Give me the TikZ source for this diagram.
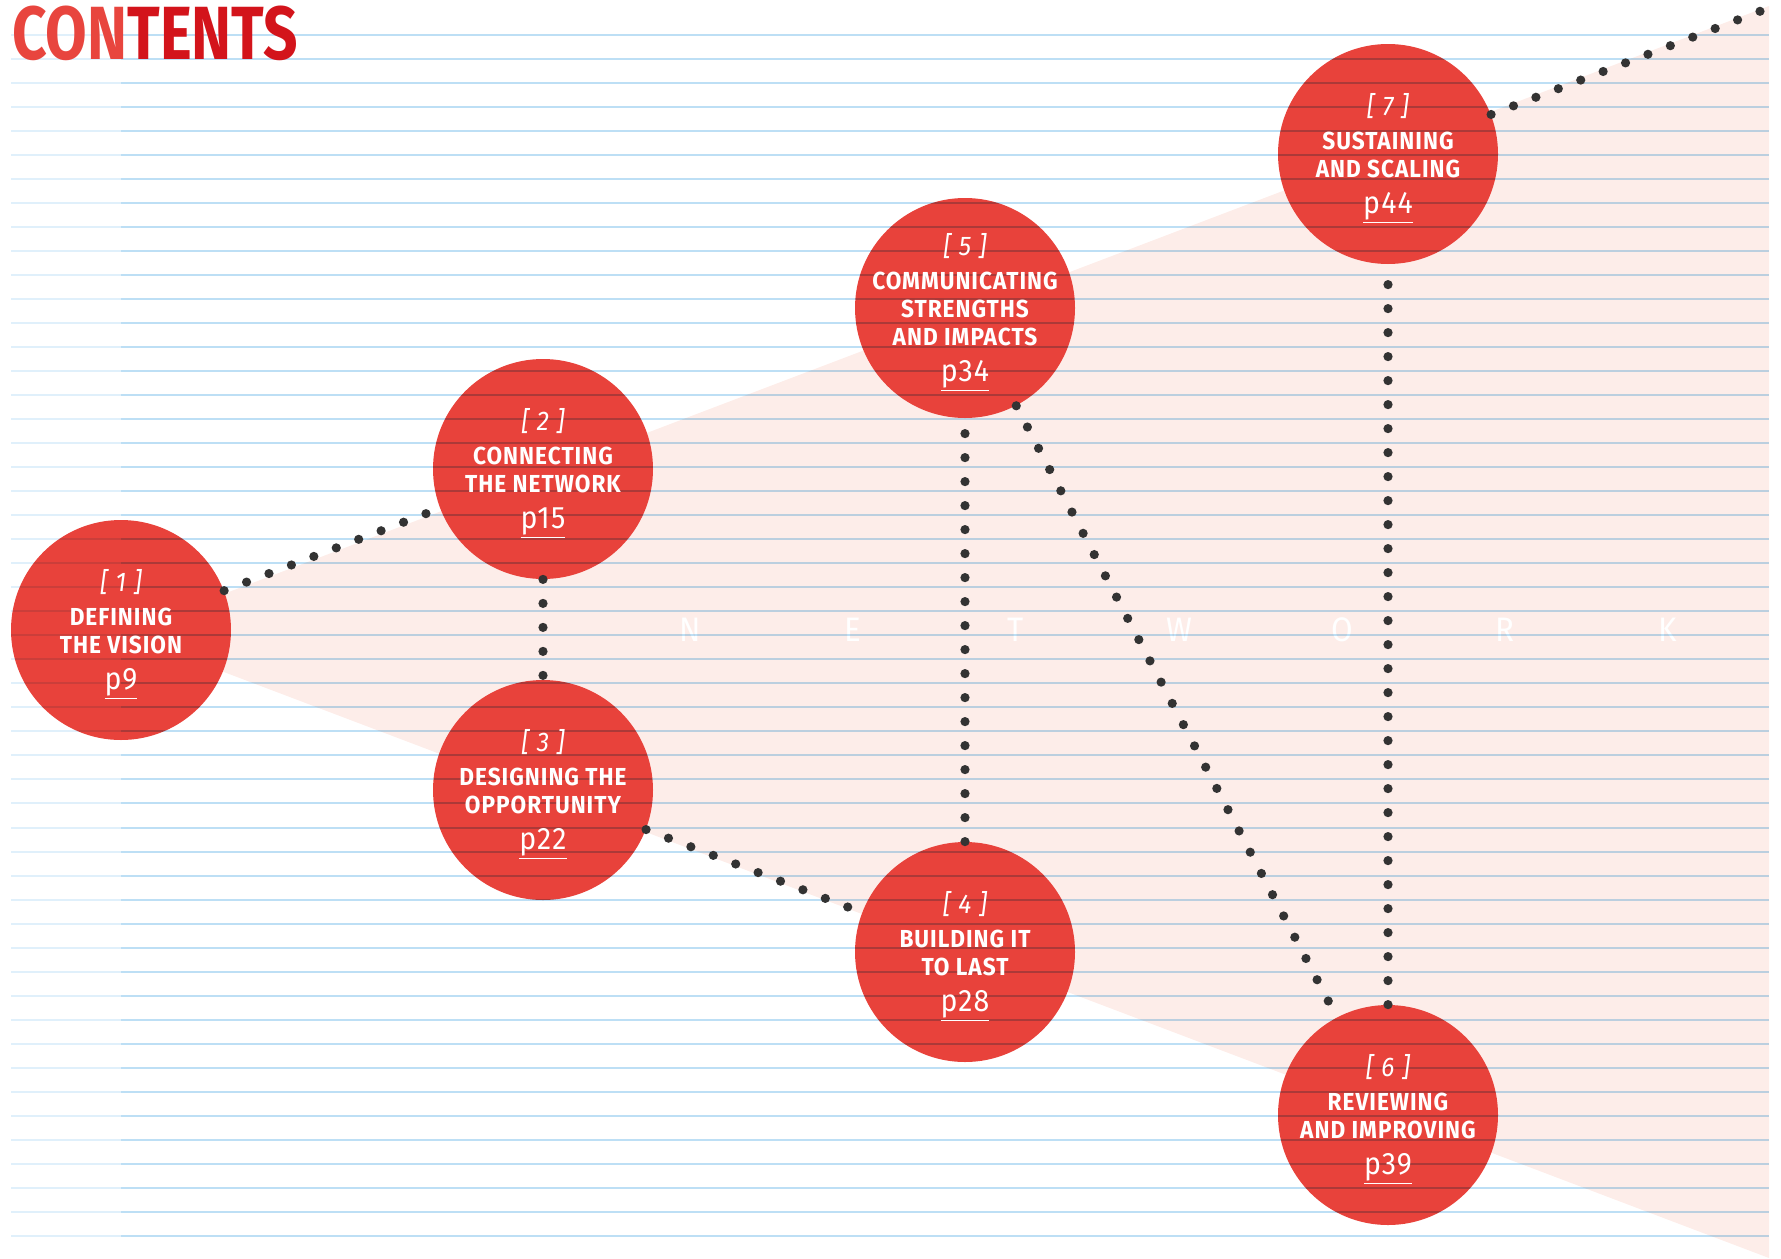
\documentclass[tikz,border=0pt]{standalone}
\usepackage{fontspec}
\setmainfont{Fira Sans}
\newfontfamily\titlefont[FakeStretch=0.8]{Fira Sans}
\newfontfamily\chapfont[FakeStretch=0.92, LetterSpace=4]{Fira Sans}
\usetikzlibrary{positioning}
\definecolor{chapred}{HTML}{E8423B}
\definecolor{titlered}{HTML}{D3141B}
\definecolor{titlelight}{HTML}{E8453E}
\definecolor{bandpink}{HTML}{FDEDE9}
\definecolor{ruleblue}{HTML}{BDDFF5}
\definecolor{rulepale}{HTML}{E0F0FB}
\definecolor{dotgrey}{HTML}{333333}
\tikzset{chapter/.style = {circle, fill = chapred, minimum size = 110pt, inner sep = 0}}
\tikzset{chaptext/.style = {text = white, align = center, inner sep = 0,
    font = \chapfont\bfseries\fontsize{12.3}{14}\selectfont}}
\tikzset{rule/.style = {line width = 1pt, draw = ruleblue}}
\tikzset{palerule/.style = {line width = 1pt, draw = rulepale}}
\tikzset{trail/.style = {draw = dotgrey, line width = 4.6pt, line cap = round,
    dash pattern = on 0pt off 12pt}}
\tikzset{netletter/.style = {text = white, font = \chapfont\fontsize{17}{17}\selectfont}}
\newcommand{\chapnum}[1]{{\mdseries\itshape\fontsize{13.5}{14}\selectfont[\;#1\;]}}
\newcommand{\chappage}[1]{{\mdseries\fontsize{15.5}{14}\selectfont\underline{p#1}}}

\begin{document}
\begin{tikzpicture}[x = 0.5pt, y = -0.5pt]
    \useasboundingbox (0, 0) rectangle (1781, 1258);

    \fill [bandpink] (121, 633) -- (1769, 6) -- (1769, 1258) -- cycle;

    \node [chapter] (c1) at (121, 630) {};
    \node [chapter] (c2) at (543, 469) {};
    \node [chapter] (c3) at (543, 790) {};
    \node [chapter] (c4) at (965, 952) {};
    \node [chapter] (c5) at (965, 308) {};
    \node [chapter] (c6) at (1388, 1115) {};
    \node [chapter] (c7) at (1388, 154) {};
    \coordinate (corner) at (1766, 9);

    \foreach \l [count = \i] in {N, E, T, W, O, R, K}
      \node [netletter] (n\i) at (690 + 163 * \i - 163, 630) {\l};

    \begin{scope}[blend mode = multiply]
      \foreach \k in {0, ..., 50} {
        \draw [palerule] (11, 34.5 + 24.03 * \k) -- (121, 34.5 + 24.03 * \k);
        \draw [rule] (121, 34.5 + 24.03 * \k) -- (1769, 34.5 + 24.03 * \k);
      }
    \end{scope}

    \draw [trail] (c1) -- (c2);
    \draw [trail] (c2) -- (c3);
    \draw [trail] (c3) -- (c4);
    \draw [trail] (c4) -- (c5);
    \draw [trail] (c5) -- (c6);
    \draw [trail] (c6) -- (c7);
    \draw [trail] (c7) -- (corner);

    \node [anchor = base west, inner sep = 0] (title) at (12, 59)
      {\titlefont\bfseries\fontsize{37.7}{38}\selectfont
       \textcolor{titlelight}{CON}\textcolor{titlered}{TENTS}};

    \node [chaptext, yshift = -2.3pt] (t1) at (c1) {\chapnum{1}\\[3pt]DEFINING\\THE VISION\\[4pt]\chappage{9}};
    \node [chaptext, yshift = -2.3pt] (t2) at (c2) {\chapnum{2}\\[3pt]CONNECTING\\THE NETWORK\\[4pt]\chappage{15}};
    \node [chaptext, yshift = -2.3pt] (t3) at (c3) {\chapnum{3}\\[3pt]DESIGNING THE\\OPPORTUNITY\\[4pt]\chappage{22}};
    \node [chaptext, yshift = -2.3pt] (t4) at (c4) {\chapnum{4}\\[3pt]BUILDING IT\\TO LAST\\[4pt]\chappage{28}};
    \node [chaptext, yshift = -2.3pt] (t5) at (c5) {\chapnum{5}\\[3pt]COMMUNICATING\\STRENGTHS\\AND IMPACTS\\[4pt]\chappage{34}};
    \node [chaptext, yshift = -2.3pt] (t6) at (c6) {\chapnum{6}\\[3pt]REVIEWING\\AND IMPROVING\\[4pt]\chappage{39}};
    \node [chaptext, yshift = -2.3pt] (t7) at (c7) {\chapnum{7}\\[3pt]SUSTAINING\\AND SCALING\\[4pt]\chappage{44}};
  \end{tikzpicture}
\end{document}
